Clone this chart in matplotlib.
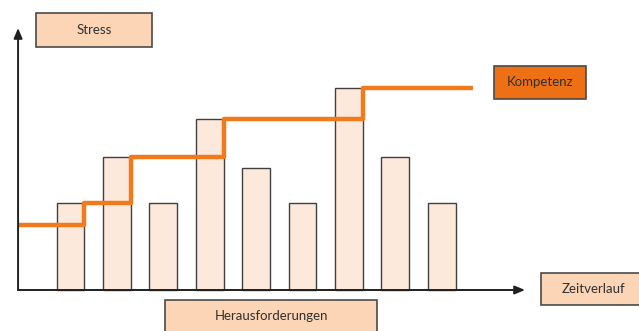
import matplotlib
matplotlib.use("Agg")
import matplotlib.pyplot as plt
from matplotlib.patches import Rectangle

# bar heights (Herausforderungen / Stress), one per bar
stress = [8.7, 13.3, 8.7, 17.1, 12.2, 8.7, 20.2, 13.3, 8.7]
bar_pos = list(range(1, len(stress) + 1))

# competence step line: x where a level starts, level value
komp_x = [-0.13, 1.3, 2.3, 4.3, 7.3, 9.67]
komp_y = [6.5, 8.7, 13.3, 17.1, 20.2, 20.2]

W, H = 639, 331
fig = plt.figure(figsize=(W / 100, H / 100), dpi=100)
ax = fig.add_axes([0, 0, 1, 1])
ax.set_xlim((0 - 70.5) / 46.4 + 1, (W - 70.5) / 46.4 + 1)
ax.set_ylim((290 - H) / 10, 290 / 10)
ax.axis("off")

ax.bar(bar_pos, stress, width=0.6, color="#fde9dc", edgecolor="#404040",
       linewidth=1.0, zorder=2)

ax.plot(komp_x, komp_y, drawstyle="steps-post", color="#f07a1c",
        linewidth=3.2, solid_capstyle="butt", zorder=3)

# axes with arrows
x0 = komp_x[0]
ax.annotate("", xy=(x0, (290 - 28) / 10), xytext=(x0, 0),
            arrowprops=dict(arrowstyle="-|>,head_length=0.6,head_width=0.25",
                            color="#202020", lw=1.4, shrinkA=0, shrinkB=0), zorder=4)
ax.annotate("", xy=((525 - 70.5) / 46.4 + 1, 0), xytext=(x0, 0),
            arrowprops=dict(arrowstyle="-|>,head_length=0.6,head_width=0.25",
                            color="#202020", lw=1.4, shrinkA=0, shrinkB=0), zorder=4)


def label_box(text, x1, y1, x2, y2, fill):
    # box given in pixel coords of the picture
    r = Rectangle((x1 / W, 1 - y2 / H), (x2 - x1) / W, (y2 - y1) / H,
                  transform=ax.transAxes, facecolor=fill, edgecolor="#4a4a4a",
                  linewidth=1.2, zorder=5, clip_on=False)
    ax.add_patch(r)
    ty = min(y2, H) 
    ax.text((x1 + x2) / 2 / W, 1 - (y1 + ty) / 2 / H, text,
            transform=ax.transAxes, ha="center", va="center",
            fontsize=9.5, family="Lato", color="#303030", zorder=6)


label_box("Stress", 36, 13, 152, 47, "#fbd5b5")
label_box("Kompetenz", 494, 66, 586, 99, "#ee7014")
label_box("Herausforderungen", 165, 300, 377, 338, "#fbd5b5")
label_box("Zeitverlauf", 541, 273, 645, 305, "#fbd5b5")

fig.savefig("out.png", dpi=100)
